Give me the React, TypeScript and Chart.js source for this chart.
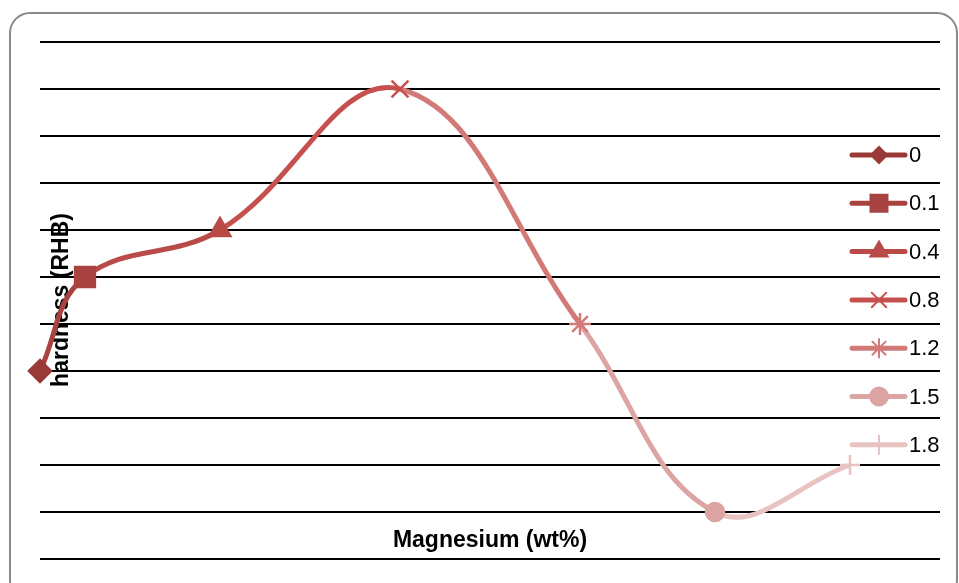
import { useEffect, useRef } from "react";
import { Chart, registerables } from "chart.js";
import { drawPoint } from "chart.js/helpers";

Chart.register(...registerables);

// Magnesium content (wt%) of each alloy and its measured hardness
const magnesium = [0, 0.1, 0.4, 0.8, 1.2, 1.5, 1.8];
const hardness = [70, 80, 85, 100, 75, 55, 60];
const seriesLabels = ["0", "0.1", "0.4", "0.8", "1.2", "1.5", "1.8"];
const seriesColors = ["#9A3A38", "#A84341", "#B84B48", "#C6504D", "#D27A78", "#DCA4A3", "#E8C3C2"];
const markerStyles = ["rectRot", "rect", "triangle", "crossRot", "star", "circle", "cross"];
const markerRadii = [11, 14, 12, 12, 11, 9, 10];
const legendRadii = [8, 12, 10, 11, 10, 9, 10];

const yMin = 50;
const yMax = 105;
const yStep = 5;

const W = 959;
const H = 583;

const chartFrame = {
  id: "chartFrame",
  beforeDraw(chart: any) {
    const ctx = chart.ctx as CanvasRenderingContext2D;
    ctx.save();
    ctx.fillStyle = "#ffffff";
    ctx.fillRect(0, 0, W, H);
    const x0 = 10, y0 = 13, x1 = 957, y1 = 600, r = 20;
    ctx.beginPath();
    ctx.moveTo(x0 + r, y0);
    ctx.lineTo(x1 - r, y0);
    ctx.arcTo(x1, y0, x1, y0 + r, r);
    ctx.lineTo(x1, y1 - r);
    ctx.arcTo(x1, y1, x1 - r, y1, r);
    ctx.lineTo(x0 + r, y1);
    ctx.arcTo(x0, y1, x0, y1 - r, r);
    ctx.lineTo(x0, y0 + r);
    ctx.arcTo(x0, y0, x0 + r, y0, r);
    ctx.closePath();
    ctx.strokeStyle = "#8a8a8a";
    ctx.lineWidth = 2;
    ctx.stroke();
    ctx.restore();
  },
};

const titlesAndLegend = {
  id: "titlesAndLegend",
  beforeDatasetsDraw(chart: any) {
    const ctx = chart.ctx as CanvasRenderingContext2D;
    ctx.save();
    ctx.fillStyle = "#000000";
    ctx.font = "bold 23px 'Liberation Sans', Arial, sans-serif";
    ctx.textAlign = "center";
    ctx.textBaseline = "middle";
    ctx.fillText("Magnesium (wt%)", 490, 541);
    ctx.translate(62, 300);
    ctx.rotate(-Math.PI / 2);
    ctx.fillText("hardness (RHB)", 0, 0);
    ctx.restore();
  },
  afterDraw(chart: any) {
    const ctx = chart.ctx as CanvasRenderingContext2D;
    const rowTop = 155;
    const rowGap = 48.3;
    ctx.save();
    seriesLabels.forEach((label, i) => {
      const y = rowTop + i * rowGap;
      ctx.strokeStyle = seriesColors[i];
      ctx.fillStyle = seriesColors[i];
      ctx.lineWidth = 5;
      ctx.lineCap = "round";
      ctx.beginPath();
      ctx.moveTo(852, y);
      ctx.lineTo(905, y);
      ctx.stroke();
      ctx.lineCap = "butt";
      ctx.lineWidth = 2;
      drawPoint(ctx, { pointStyle: markerStyles[i] as any, radius: legendRadii[i], rotation: 0, borderWidth: 2 } as any, 879, y);
      ctx.fillStyle = "#000000";
      ctx.font = "22px 'Liberation Sans', Arial, sans-serif";
      ctx.textAlign = "left";
      ctx.textBaseline = "middle";
      ctx.fillText(label, 909, y + 1);
    });
    ctx.restore();
  },
};

export default function App() {
  const canvasRef = useRef<HTMLCanvasElement | null>(null);

  useEffect(() => {
    const canvas = canvasRef.current;
    if (!canvas) return;
    const chart = new Chart(canvas, {
      type: "scatter",
      data: {
        datasets: [
          {
            label: "hardness",
            data: magnesium.map((m, i) => ({ x: m, y: hardness[i] })),
            showLine: true,
            borderWidth: 5,
            tension: 0.4,
            clip: false as any,
            borderColor: seriesColors[3],
            segment: {
              borderColor: (c: any) => seriesColors[c.p1DataIndex],
            },
            pointStyle: markerStyles as any,
            pointRadius: markerRadii,
            pointBackgroundColor: seriesColors,
            pointBorderColor: seriesColors,
            pointBorderWidth: 2.5,
          },
        ],
      },
      options: {
        animation: false,
        responsive: false,
        maintainAspectRatio: false,
        layout: { padding: { left: 40, right: W - 940, top: 42, bottom: H - 559 } },
        plugins: { legend: { display: false }, tooltip: { enabled: false } },
        scales: {
          x: { type: "linear", min: 0, max: 2, display: false },
          y: {
            min: yMin,
            max: yMax,
            ticks: { display: false, stepSize: yStep },
            grid: { color: "#000000", lineWidth: 2, drawTicks: false },
            border: { display: false },
          },
        },
      },
      plugins: [chartFrame, titlesAndLegend],
    });
    return () => chart.destroy();
  }, []);

  return (
    <div style={{ position: "fixed", left: 0, top: 0, width: W, height: H, background: "#fff" }}>
      <canvas ref={canvasRef} width={W} height={H} style={{ width: W, height: H, display: "block" }} />
    </div>
  );
}
